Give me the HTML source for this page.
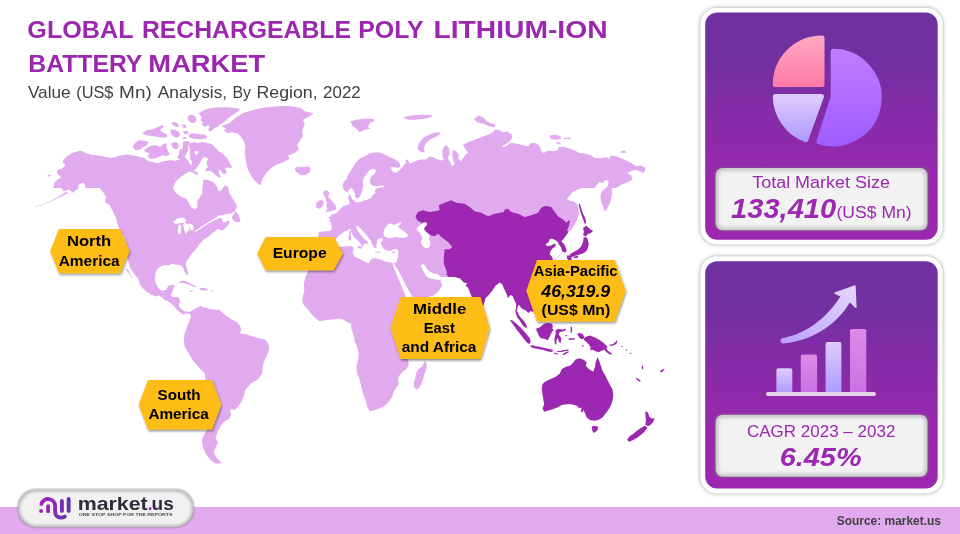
<!DOCTYPE html>
<html lang="en"><head><meta charset="utf-8"><title>Global Rechargeable Poly Lithium-Ion Battery Market</title>
<style>
html,body{margin:0;padding:0;background:#fff}
body{width:960px;height:534px;overflow:hidden;position:relative;font-family:"Liberation Sans",sans-serif}
svg{position:absolute;left:0;top:0;display:block}
text{font-family:"Liberation Sans",sans-serif;white-space:pre}
</style></head><body>
<svg width="960" height="534" viewBox="0 0 960 534">
<defs>
<linearGradient id="cg" x1="0" y1="0" x2="0" y2="1"><stop offset="0" stop-color="#7030A0"/><stop offset=".18" stop-color="#7030A0"/><stop offset=".72" stop-color="#9928AE"/><stop offset="1" stop-color="#9C27B0"/></linearGradient>
<filter id="hs" x="-10%" y="-20%" width="125%" height="150%"><feDropShadow dx="0.8" dy="1.6" stdDeviation="0.9" flood-color="#000" flood-opacity=".45"/></filter>
<filter id="cs" x="-10%" y="-10%" width="120%" height="120%"><feDropShadow dx="0" dy="0" stdDeviation="2" flood-color="#55553f" flood-opacity=".6"/></filter>
<filter id="ib" x="-5%" y="-10%" width="110%" height="120%"><feGaussianBlur stdDeviation="2"/></filter>
</defs>
<rect x="0" y="507" width="960" height="27" fill="#E1AAEE"/>
<g id="map"><path fill="#E1AAEE" d="M53,188 54.7,182.2 57.7,179.2 61.3,177.7 58.8,175 56.7,172.2 57.7,169.7 61.3,168.8 63.8,167.2 65.5,164.7 62.7,162.2 63.3,159.7 67.2,156 72.2,153 78,151.3 81.7,150.7 85.5,153 91.3,154.7 98,155.5 104.7,156.7 111.3,158 115.5,156.7 121.3,155.5 128,154.3 132.2,155.5 138,156.3 144.7,158.3 147.2,160.5 152.2,162.2 157.2,163.3 161.3,162.2 166.3,161 173,161.3 178,160 183,161.3 185.5,164.7 183.8,168 186.3,171.3 189.7,172.2 189.7,188ZM47.7,174.7 50.5,175 51,176.3 48,176.3ZM221.3,126 229.7,123 236.3,117.2 243,113 251.3,110.5 261.3,108 271.3,106.7 281.3,106 291.3,106.3 301.3,108.3 304.7,111.3 313.8,113.3 308,117.2 303,119.7 304.7,124.7 302.2,130.5 303,135.5 300.5,139.7 297.2,144.7 298.8,149.7 294.7,153 288,155.5 289.7,158.8 283,162.2 276.3,164.7 271.3,168 266.3,173 263,178 261.3,183 259.7,185.5 257.2,183 253.8,179.7 250.5,174.7 248,169.7 246.3,163.8 245.5,158 244.7,151.3 245.5,146.3 243.8,141.3 241.3,137.2 238,133.8 233,132.2 227.2,133 223.8,130.5 226.3,128.8ZM294.7,168.8 297.2,166.7 303,167.2 308,166.3 311,168.8 309.7,172.2 305.5,174.7 301.3,175.5 298,173.3 295.5,171.3ZM198.5,113.2 202.8,110.7 207.9,108.8 215.4,107.5 224.2,107.3 233,107.8 239.2,108.8 240,109.4 236.7,112.6 231.7,115.7 227.9,118.8 224.2,122 220.4,124.5 216.7,127 212.9,129.5 210.4,131.4 207.9,130.1 209.7,127 207.9,125.1 205.4,127 202.2,125.1 202.8,122 200.3,120.1 202.2,117.6 200.3,115.7ZM188.4,134.5 192.8,133.3 197.8,133.9 202.8,134.5 207.2,135.8 206.6,138.3 201.6,139.2 196.6,138.9 191.5,138.3 188.8,137ZM187.8,116.3 191.5,114.4 195.3,116.3 196.6,120.1 194.1,123.2 190.3,122.6 187.8,120.1ZM171.5,122.6 175.2,122 178.4,124.5 179,127 175.9,127 172.7,125.1ZM182.1,124.5 185.3,124.5 186.5,127.6 183.4,128.2ZM142,133.3 147,130.1 152.6,129.5 157.7,127 162.7,125.1 163.9,127 160.2,129.5 162.1,132 166.4,133.9 167.7,136.4 163.9,137.7 158.9,137 153.9,136.4 149.5,135.8 145.1,135.1ZM170.2,129.5 175.2,130.1 179,132 180.3,135.8 177.1,137.7 173.3,136.4 170.8,133.3ZM182.8,131.4 187.8,130.8 188.4,133.3 184.6,134.5ZM182.1,137.7 185.9,137 186.5,138.9 182.8,139.2ZM132.6,147.1 135.1,142.7 138.8,140.2 143.8,140.4 148.9,142.1 147,145.2 143.2,147.1 140.1,149.6 135.7,150.2ZM143.8,150.2 147,147.7 151.4,145.8 156.4,145.2 160.2,147.1 163.3,143.9 167.1,143.3 166.4,147.1 168.3,151.5 169.6,154.6 166.4,155.9 162.7,155.2 158.9,157.1 154.5,158.4 150.1,159 147.6,156.5 149.5,153.3 145.7,152.1ZM171.5,143.3 175.2,142.1 178.4,143.3 179,147.1 176.5,149.6 173.3,148.3 171.5,145.8ZM182.8,142.1 186.5,140.8 189.7,142.1 188.4,145.8 185.3,148.3 182.8,146.4ZM179.6,149.6 182.8,149 184.6,152.7 182.1,155.9 179,154ZM190.3,143.9 194.1,142.1 197.2,143.3 195.3,147.1 194.1,151.5 195.9,155.2 198.5,152.7 199.7,148.3 201.6,143.9 206.6,142.7 211.6,143.9 215.4,147.7 219.2,151.5 222.9,154 226.7,157.7 229.2,161.5 231.7,167.8 207.9,167.8 206.6,162.8 207.9,159 204.7,156.5 201.6,159 199.1,162.8 195.3,167.8 190.3,167.8 192.2,162.8 190.3,159 189.7,154 190.3,149ZM188.9,143.8 192.7,142.5 197.7,143.1 202.7,141.9 207.7,143.1 212.8,146.3 216.5,150 220.3,153.2 224.1,156.3 226.6,160.1 230.3,163.8 232.2,167 229.1,167.6 226.6,165.7 225.3,168.9 227.2,172.6 224.1,174.5 221.5,172 219.7,168.9 218.4,172.6 220.9,176.4 219,177.7 215.3,175.1 212.1,172 209,170.8 205.2,171.4 206.5,168.2 210.3,165.7 212.8,162.6 211.5,158.8 208.4,156.3 205.2,157.6 202.7,155.1 200.2,151.9 196.4,150.7 193.3,151.9 190.2,149.4 188.9,146.3ZM191.4,172 195.2,170.8 198.3,173.3 196.4,176.4 193.3,177 190.8,175.1ZM193.3,165.1 195.8,162 198.3,158.8 200.2,156.9 202.1,158.8 200.2,162.6 197.7,166.4 195.2,169.5 192.1,171.4 190.2,168.9ZM177,157.6 179.5,153.8 181.4,150 183.3,146.3 184.5,144.4 187.7,145.6 188.3,150 186.4,153.8 184.5,157.6 186.4,160.7 181.4,161.3ZM127.2,155.8 134.7,156.7 141.3,158.3 148,160.8 154.7,162.5 158,164.2 161.3,161.7 166.3,160.8 171.3,160 176.3,161.7 179.7,160 183,156.7 186.3,158.3 189.7,163.3 192.2,166.7 193.8,173.3 198,175.8 201.3,177.5 203.8,179.2 208,180 213,181.7 216.3,185.8 218,190 221.3,188.3 223.8,184.2 226.3,188.3 229.7,195 233,200 235.5,204.2 236.3,208.3 234.7,211.7 231.3,213.3 228,215 223,215.8 218,217.5 214.7,220 209.7,222.5 204.7,225 201.3,227.5 198,230 127.2,230ZM231.3,218.3 234.7,213.3 237.2,214.2 238.8,219.2 240.5,221.7 237.2,222.5 233.8,220.8ZM218.8,230 220.5,225.8 223.8,223.3 228,221.3 229.7,223.3 226.3,226.7 223.8,230ZM188.8,186.2 188.8,277 136.3,277 129.7,267 128,260.3 127.2,253.7 124.7,237 119.7,230.3 118,225.3 116.3,218.7 113,212 109.7,205.3 104.7,202 106.3,197 103,192 98,186.2ZM79.7,186.2 78,188.7 73,192.8 68.8,189.5 63.8,191.2 59.7,186.2ZM34.7,206.8 44.7,203.7 58,197 66.3,191.7 68,193 58.8,197.7 44.7,204.2 34.7,207.2ZM139.4,234.4 208.4,234.4 202.7,238.8 199.6,243.8 197.1,247.5 194,251.3 190.2,255.7 187.7,258.8 187.1,259.5 185.9,263.2 186.3,267 187.6,270.8 188.1,273.9 186.8,275.5 184.8,272.3 183.5,268.5 182,265.7 178.9,265.1 175.1,264.5 171.4,263.9 168.9,265.4 164.5,265.1 160.7,266.4 157.6,268.9 155.7,272.6 155.1,277.7 155.7,282.7 157.6,286.4 160.1,289.6 163.2,290.8 166.3,289.6 168.2,285.8 171.4,284.6 174.5,284.9 173.6,288.3 172,292.1 170.9,295.5 172.6,297.1 177.6,297.1 179.5,299 180.2,302.8 170.1,302.8 167,299 163.2,295.2 160.7,294 156.3,295.9 151.3,294 146.3,291.5 142.5,287.7 139.4,283.3ZM178.9,282.1 182,280.4 185.8,281.2 190.2,283.3 194,285.2 197.1,286.4 195.2,287.1 191.4,285.8 187.1,283.9 182.7,282.7 179.5,282.9ZM199.6,288.3 203.4,287.7 207.8,289 207.8,290.2 203.4,290.5 200,290ZM189.6,290.8 192.7,290.6 192.7,291.7 189.6,291.8ZM210.6,290.2 213,290.2 213,291.2 210.6,291.2ZM187.2,186.2 228,186.2 229.7,193.7 233.8,200.3 237.2,206.2 234.7,210.3 229.7,213.7 223.8,214.5 221.3,217.8 223.8,222.8 228.8,220.3 229.7,222.8 225.5,227 220.5,230 218,228.7 213,232.8 208,237 203.8,239.5 199.7,243.8 197.2,247.5 194,251.3 190.2,255.7 187.2,259ZM232.2,216.2 235.5,211.2 238,213.7 240.5,220.3 237.2,222 233.8,219.5ZM316.3,202.8 319.7,200.3 323.8,201.2 323.3,205.3 319.7,208.7 316.3,207.8ZM323,192 326.3,190.3 329.7,192.8 328,197 332.2,201.2 335.5,205.3 336.3,209.5 331.3,211.2 325.5,212 328,207.8 326.3,203.7 328,200.3 324.7,197ZM348.8,242 318,242 318,237 318.8,232 324.7,231.2 333,230.7 334.7,225.3 333,220.3 328,217.8 333,214.5 338,212 343,208.7 348.8,203.7ZM308,277 310.5,273.7 314.7,271.2 321.3,270.3 348.8,265.3 348.8,277ZM344.7,186.2 348.8,186.2 348.8,191.2 345.5,190.3ZM153,269.2 153.8,276.7 155.5,282.5 158,287.5 161.3,290.8 165.5,290 168,285.8 173.8,285 172.2,289.2 170.5,294.2 171.3,296.7 178,297.5 179.7,301.7 178.8,305.8 181.3,309.2 185.5,311.7 189.7,312 193,310 191.3,315.3 189.7,314.2 186.3,313.3 183.8,315 179.7,311.7 175.5,308.3 172.2,304.2 167.2,300.8 163,297.5 159.7,295 155.5,295.8 148.8,292.5 143.8,288.3 140.5,284.2 137.2,276.7 133,269.2ZM128,269.2 130.5,275 133,279.2 131.3,277.5 128.8,273.3 125.5,269.2ZM191.3,315 194.7,310 198.8,307.5 201.3,305.8 203.8,308.3 208,309.2 214.7,309.7 219.7,310 222.2,312.5 226.3,315.8 231.3,319.2 236.3,321.7 239.7,325 241.3,330 239.7,333.3 246.3,334.2 253,336.7 259.7,338.3 265.5,340.8 268.3,343.8 269,348.3 268.3,352.7 265.8,356.5 263.3,360.2 193.8,360 191.3,355 188,350 185.5,345 183.8,340 184.7,333.3 187.2,326.7 189.7,320ZM139.5,279.5 154.9,279.5 155.4,283 156.9,286.5 158.9,289.4 161.3,291.4 164.8,290.9 167.3,288.9 168.8,285 174.2,284.5 173.3,287.4 171.8,290.9 170.8,293.9 171.3,296.4 174.7,297.4 178.2,297.4 179.7,298.9 179.2,301.8 178.7,304.8 179.2,307.3 180.2,309.8 182.2,311.3 184.2,312.3 186.2,311.6 188.6,311.8 190.1,313.7 191.6,313.7 191.1,315.7 190.1,314.2 188.6,312.3 186.2,312.3 185.2,313.7 183.7,314.7 181.2,313.3 178.7,311.3 176.2,309.3 174.7,306.3 172.8,303.3 169.8,301.8 166.3,300.8 163.3,298.9 160.8,296.4 158.9,295.4 156.4,296.4 151.9,294.9 146.9,291.9 143,288.4 139.5,284ZM191.6,314.2 192.6,310.8 195.1,308.8 198.1,307.3 200.5,305.8 202,306.3 202.5,308.8 204.5,307.3 207.5,308.3 211.5,309.3 215.4,309.8 220.4,309.8 220.4,333.6 185.2,333.6 185.7,331.6 187.1,327.6 188.6,323.7 190.1,319.7ZM199.4,306.9 205,307.5 210,309.4 216.3,310.7 221.3,313.2 225.1,316.9 230.1,319.4 235.1,322 238.9,325.1 240.2,329.5 238.3,333.2 241.4,333.9 245.2,333.9 250.2,336.4 255.2,338.3 260.2,339.5 265.2,342 268.4,343.9 269,348.3 268.4,352.7 265.9,356.5 263.4,360.2 262.1,364 262.1,367.8 199.4,367.8ZM264.7,339.2 268,343.3 268.8,348.3 267.2,355 264.7,360 263,365 262.2,373.3 258,379.2 251.3,383.3 248,386.7 245.5,390 243.8,395.8 241.3,401.7 238,406.7 234.7,410 231.3,409.2 227.2,410.8 229.7,414.2 230.5,417.5 227.2,420 223.8,421.7 221.3,425 218.8,430 217.2,430 216.3,418.3 213.8,406.7 209.7,395 206.3,383.3 204.7,373.3 199.7,368.3 193.8,361.7 189.7,355 184.7,346.7 183.8,339.2ZM242.2,399.2 238.8,405 233.8,408.3 229.7,410 231.3,415 228,418.3 223,420.8 221.3,425 218,429.2 217.2,433.3 215.5,438.3 218,442.5 215.5,447.5 213.8,452.5 216.3,457.5 220.5,461.7 221.3,463.7 214.7,463.3 209.7,459.2 205.5,453.3 203,446.7 201.8,440 204.7,433.3 207.2,430 214.7,410 217.2,399.2ZM347.2,176.3 351.3,169.7 355.5,163 359.7,158.8 366.3,155.5 373,153 378.8,152.2 383,153.8 388,156.3 393.8,158.8 398,161.3 400.5,164.7 398.8,168 394.7,167.2 390.5,167.2 392.2,171.3 395.5,173 398,171.3 401.3,168.8 403.8,164.7 406.3,162.2 405.5,159.7 408.8,161.3 409.7,163.8 414.7,161.3 419.7,159.7 426.3,159.3 429.7,156.3 433,157.2 436.3,158.8 441.3,160.5 443.8,159.7 442.2,154.7 443,148 446.3,144.7 448.8,148 449.7,153 448,158 450.5,163 452.2,166.3 454.7,163.8 453,159.7 452.2,154.7 453,149.7 456.3,151.3 458.8,154.7 458,158.8 461.3,161.3 463,158 465.5,154.7 468,153 464.7,148 463,144.7 468,142.2 474.7,139.7 481.3,137.2 488,134.7 493,132.2 494.7,129.7 498.8,129.7 503,132.2 508.8,131.3 508.8,188 347.2,188ZM350.5,121.3 356.3,119.7 363,118.8 373,118.8 374.7,120.5 369.7,123 368,127.2 370.5,128.8 364.7,129.7 359.7,132.2 355.5,128 352.2,125.5ZM403,117.2 411.3,115.5 421.3,114.7 431.3,114.7 432.2,116.7 424.7,118.8 414.7,119.7 408,119.7ZM417.2,148.8 418.8,143.8 422.2,138.8 427.2,135.5 433,133 439.7,132.2 440.5,133.8 434.7,137.2 429.7,139.7 425.5,143.8 423.8,148 424.7,152.2 421.3,152.2ZM473.8,118.8 478.8,115.5 483,117.2 486.3,120.5 489.7,123 495.5,124.7 494.7,127.2 488.8,126.3 483,123.8 477.2,122.2ZM507.2,133 511.3,133.8 512.2,138 509.7,141.3 508,143 514.7,143.3 521.3,144.7 528,146.3 531.3,143 536.3,143.3 539.7,146.3 541.3,151.3 543.8,153 548,150.5 553,151.3 557.2,150.5 558.8,147.2 563,146.7 568,148 574.7,150.5 579.7,153 586.3,153.8 591.3,155.5 594.7,158 600.5,158.3 606.3,157.2 609.7,158.8 610.5,155.5 616.3,156.3 624.7,159.7 631.3,163 636.3,166.3 641.3,165.5 645.5,168 643.8,173 639.7,171.3 634.7,169.7 631.3,171.3 627.2,173 631.3,175.5 632.2,179.7 626.3,183 621.3,184.7 616.3,188 608,188 608.8,181.3 605.5,179.7 603,183 598.8,182.2 594.7,188 507.2,188ZM549.7,135.5 554.7,134.7 560.5,136 561,138.8 555.5,139.7 550.5,138.8ZM563.8,137.7 570.5,137.7 570.5,139.3 563.8,139ZM556.3,141.7 560.5,143 560.5,144.7 556.3,143.3ZM621,151 625.5,150.5 626,152.7 621.3,153ZM343.3,188.9 342.6,185.1 343.9,181.4 347.7,178.2 351.4,174.5 353.9,170.1 357.1,165.1 360.2,160.7 364,156.9 369,153.8 374,152.5 379,153.1 384.1,155.6 387.8,157.5 392.8,159.4 397.9,161.9 400.4,164.4 399.7,166.9 396.6,166.3 392.8,165.7 388.5,165.7 390.3,168.8 392.2,172 395.4,173.8 397.9,172.6 399.7,170.1 402.3,167.6 405.4,165.1 406.7,161.9 405.4,160 407.3,159.4 409.2,161.9 408.5,165.1 411.7,163.2 415.4,161.3 420.5,160 425.5,159.4 430.5,158.8 430.5,217.8 332,217.8 335.1,214.6 338.2,211.5 341.4,207.7 343.9,205.9 347.7,204.7 350.2,203.3 348.9,200.2 348.3,196.4 350.2,193.9 348.4,193.3 345.1,190.8ZM324.4,192.1 327.6,190.8 328.8,193.3 327.6,196.4 330.1,199.6 332.6,203.3 335.1,206.5 335.7,209 332.6,210.3 328.8,211.5 325.7,212.1 327.6,209 326.3,205.9 327.6,202.7 325.7,200.2 326.3,197.1 324.4,195.2ZM316.9,204 319.4,200.8 322.6,200.2 323.6,203.3 321.9,206.5 318.8,208.4 316.3,207.7ZM331.3,214.4 440.5,214.4 440.5,282.8 335.1,282.8 335.1,240.1 327.5,227.6ZM381.3,186.2 508.8,186.2 508.8,277 381.3,277ZM507.2,186.2 588,186.2 583,187.8 578,189.5 573,192 569.7,195.3 566.7,199.5 570,200.7 573.8,201.5 577.2,203.7 578.3,207.8 579,213.7 577.2,219.5 574.7,224.5 572.2,228.7 568.3,232.3 558,237 507.2,237ZM601.3,192 604.7,188.7 608,186.2 611.3,186.2 612.2,192 611.3,198.7 609.7,203.7 607.2,208.7 604.7,212 603.8,207 602.7,202 601.3,197ZM607.7,175.7 612.4,170.5 622.9,170.5 627.1,172.1 628.1,174.2 631.3,175.7 632.3,178.9 628.1,180.4 623.9,182.5 620.3,184.6 616.6,185.2 613.5,186.2 611.4,189.4 610.3,192.5 611.4,196.2 610.3,200.4 608.7,204 607.2,207.2 605.6,209.8 605.1,211.4 603.5,207.7 601.9,204 600.9,200.4 600.4,196.2 601.4,193 604,190.9 606.1,188.3 607.7,185.7 608.7,182.5 609.3,179.4 607.7,179.4ZM427.2,249.2 444.7,249.2 443.8,256.7 445.5,263.3 448,270 446.3,275 444.7,275 438,272.5 431.3,268.3 427.2,266.7ZM427.2,273.3 434.7,275 440.5,280.8 442.2,285.8 438,291.7 433,295.8 427.2,297ZM428.8,261.2 428.8,352 359.7,352 357.2,345.3 354.7,339.5 353,333.7 351.3,328.7 351.3,324 347.2,322 343,319.5 338,318.7 331.3,319.5 324.7,320.3 319.7,321.2 314.7,317.8 310.5,312.8 307.2,308.7 303.8,305.3 302.2,301.2 303,296.2 304.3,290.3 303.8,283.7 305.5,277 308,271.2 308,261.2ZM408,339.2 408,359.2 408.8,364.2 407.2,368.3 403,371.7 399.7,375 398,379.2 398.8,384.2 396,388 393.8,391.7 392.2,396.7 388.8,402 384.3,406 379.7,408.3 374.7,410.3 369.7,411.2 367.2,406.7 365.5,400 363,393.3 361.3,386.7 359.7,380 357.2,373.3 356.3,366.7 358,360 358.8,353.3 357.2,346.7 353.8,339.2ZM424.7,360.8 426.3,363.3 426.7,367.5 424.7,373.3 423,379.2 421.3,384.2 418.8,388.3 416.3,389.7 414.3,387.5 413.8,382.5 415.5,377.5 416.3,372.5 418,369.2 421.3,367.5 423.3,364.2Z"/>
<path fill="#FFFFFF" d="M78,188 78.8,184.7 82.2,182.7 84.7,183.8 85.5,188ZM176.3,188 177.2,183 183,181.8 188.8,182.2 188.8,188ZM173,188.3 174.7,183.3 178,179.2 182.2,175.8 186.3,173.3 189.7,171.3 193.8,173.3 198,175.8 201.3,177.5 203.8,179.2 203,183.3 202.3,188.3 202.3,193.3 199.7,197.5 197.3,200.8 197.3,206.7 194.7,210 193,206.7 191.3,201.7 187.2,199.2 181.3,196.7 176.3,193.3ZM173,221.7 178,218.3 183,217.5 186.3,220 184.7,222.5 179.7,223.3 175.5,224.2ZM183,224.2 186.3,223.3 187.7,230 184.3,230ZM188.8,223.3 193,225 193.8,230 189.7,230ZM223.6,181.4 224.4,185.7 222.9,188.1 220.6,191 217.9,190.5 217.1,186.9 215.1,181.4ZM173,221.2 178,218.7 183,217.8 185.5,220.3 182.2,222.8 178,222.8 174.7,223.7ZM178.8,224.5 181.3,225.3 181,232 178.8,235.3 177.7,230.3ZM183.8,222.8 188.8,224.5 188.8,230.3 185.5,233.7 183.8,228.7ZM188.8,186.2 188.8,199.5 181.3,195.3 176.3,192 173,186.2ZM155.1,277.7 155.7,272.6 157.6,268.9 160.7,266.4 164.5,265.1 168.9,265.4 171.4,263.9 175.1,264.5 178.9,265.1 182,265.7 183.5,268.5 184.8,272.3 186.8,275.5 188.1,273.9 189.2,276.4 189.2,279.9 182,280.2 178.9,281.8 176.4,284.9 174.5,284.9 171.4,284.6 168.2,285.8 166.3,289.6 163.2,290.8 160.1,289.6 157.6,286.4 155.7,282.7ZM188.1,259.5 189.7,259.5 189.7,276.4 188.1,273.9 187.6,270.8 186.3,267 185.9,263.2 187.1,259.5ZM187.2,186.2 202.2,186.2 200.5,193.7 197.2,200.3 195.5,207 192.2,208.7 187.2,200.3ZM194.7,231.3 198,229 208,222.3 216.3,217.2 223.8,214.5 229.7,213.7 230.5,215.3 223.8,216.5 217.2,219 208.8,223.3 198.8,230 195,232ZM217.2,215.7 229.7,213.7 231.7,216.7 232.7,220.3 230.5,224.5 223.8,222.8 221.3,217.8ZM363.8,188 363,181.3 365.5,176.3 368.8,172.2 372.2,169.7 375.5,170.5 374.7,173.8 371.3,176.3 369.7,180.5 368.8,184.7 370.5,188ZM502.2,146.3 508.8,142.2 508.8,144.7 503.8,147.2ZM369,170.7 372.1,168.8 375.5,169.5 375.9,171.6 373.4,174.1 371,177.1 369.7,180.8 370.4,183.9 372.8,185.8 376.5,186.4 380.3,185.4 384.1,185.8 383.6,187.2 379.8,187.4 376.5,188.4 374.8,190.2 375.3,193.3 372.8,194.7 371,197.7 367.7,199.6 364.6,200.2 361.5,201.5 358.3,202.2 355.8,202.7 353.9,200.2 355.4,197.4 358.3,198.5 360.2,195.9 361.5,192.7 362.7,188.9 363.3,185.1 362.7,181.4 364,177.6 366.5,173.8ZM348.3,190.4 351.4,187.7 353.3,190.2 354.6,193.3 355.4,197.4 353.9,200.2 352.1,199.6 350.8,196.4 350.2,193.9 348.4,196.2 347.7,193.3ZM335.1,240.1 338.8,235.7 343.2,232.6 347,230.3 350.5,229.1 351.4,232.6 353.3,235.7 355.8,238.8 358.9,241.6 360.8,244.1 362.1,247 363.6,245.1 364.8,243.1 366.7,244.1 368.6,243.2 366.7,240.7 363.6,238.2 360.4,234.5 357.3,230.1 355.8,226.5 357.7,225.7 361.4,229.4 365.2,233.8 368.3,237.6 370.5,240.4 371.7,243.5 373.6,246.6 375.5,248.5 376.7,247.3 376.1,244.7 377.5,243.2 376.5,241 378.7,239.1 382.5,238.1 382.3,240.7 380.5,242.2 381.5,245.1 382.8,247.9 385.5,250.1 390.3,250.9 394.1,249 398.1,249.6 398.1,256.4 396.8,261.2 395.3,263.1 390.3,262.4 385.3,261.4 380.3,259.6 375.2,258.2 371.7,258.4 370.2,260.8 368.5,263.7 363.9,260.9 358.9,258.4 354.5,256.4 352.6,252.7 353.6,248.3 352,246 345.1,246.4 338.8,247.1 335.1,247.6ZM383.4,232.6 384.6,228.8 387.2,225 389.7,223.2 392.2,224.4 395.3,224.8 398.5,222.5 401.6,221.9 400.3,224.4 397.8,226.3 400.3,228.8 404.1,231.3 407.2,233.8 407.9,236.3 405.4,237.6 400.3,237.8 395.3,237 390.3,238.2 386.5,237.6 384,235.7ZM416.7,228.2 419.2,225.7 422.9,223.2 426.7,222.5 427.3,225 424.8,227.6 426.7,231.3 429.8,235.1 429.2,238.8 430.5,243.9 429.2,247.6 425.4,247.9 422.3,245.8 421,242 422.3,237.6 420.4,233.8 417.9,230.7ZM421,265.2 423.6,264 426.1,268.3 429.2,273.4 433,275.3 437.4,274 440.5,276.5 440.5,280.3 433,279 427.9,277.8 424.8,274 422.3,269ZM319.9,219.4 326,219.9 329.6,221.3 331.2,223.2 331.8,226.7 331.4,230.5 318.4,230.7ZM421,265.5 424.1,264.4 426.2,267.6 428.3,270.7 431.4,272.3 434.6,273.9 436.2,273.3 437.2,275.4 436.7,277.5 433.5,276.5 430.4,277.5 427.8,277 425.7,273.9 423.6,270.2 421.5,267.6ZM392.4,262.8 393.3,262.8 395.7,267 398.5,270.7 400.8,275.4 403.6,281 406.4,286.6 409.2,291.3 412,296 413,297.9 406.4,297.9 404.1,292.2 401.7,286.6 398.9,280.1 396.1,273.5 393.8,267.9Z"/>
<path fill="#E1AAEE" d="M218.8,227.8 223.8,222.8 228.8,220.3 229.7,222.8 225.5,227 220.5,230ZM348.3,196.4 350.2,194.2 350.9,196.7 352.2,199.7 350.4,203.3 348.9,200.2ZM357.4,245.8 362.1,246.6 361.4,249.1 358,248ZM348.2,235.7 350.8,235.1 351.1,240.1 348.9,240.7ZM349.1,231.3 350.8,231.1 350.8,234.5 349.2,234.5ZM375.2,251.4 380.3,251.8 380.3,252.7 375.2,252.4ZM391.5,252 395.3,251.2 395.1,252.7 391.8,253Z"/>
<path fill="#9C27B0" d="M415.5,216.2 418,212 423,210.3 429.7,212 434.7,211.2 439.7,210.3 438.8,205.3 444.7,202.8 451.3,200.3 456.3,202.8 464.7,203.7 469.7,207 474.7,211.2 481.3,212.8 488,216.2 494.7,213.7 503.8,212 504.7,209.5 508.8,208.7 508.8,277 448,277 446.3,270.3 443.8,263.7 443.8,257 447.2,251.2 452.2,247 448,242 441.3,237 438,233.7 434.7,236.2 430.5,235.3 426.3,232 423.8,228.7 427.2,224.5 426.3,222 421.3,222.8 417.2,220.3ZM507.2,208.7 511.3,212 518,213.7 524.7,217 531.3,215.3 538,212.8 541.3,207.8 545.5,205.7 551.3,207 554.7,212 558,216.2 563,219.5 566.3,222.8 568.8,220.3 570,221.2 568.8,226.2 567.2,230.3 568.3,232.3 566.3,235.3 563.8,238.7 561.3,241.2 563.8,243.7 565.5,247 566.7,251.2 564.7,252.8 562.2,251.3 561.3,253.7 558,257 553,260.3 553,277 507.2,277ZM551.7,249.2 550.5,259.2 538,260 528,291.7 528,305 517.2,305 516.3,301.7 514.7,297.5 512.2,294.2 509.7,295.8 508,298.3 506.3,293.3 503.8,288.3 502.2,284.2 499.7,282.5 495.5,285.8 492.2,290.8 488.8,295 485.5,298.3 481.3,313.3 478,306.7 473,300 471.3,295.8 469.7,291.7 468,287.5 465.5,285.8 467.2,283.3 463.8,282.5 459.7,278.3 453,276.7 446.3,275 448,270 445.5,263.3 443.8,256.7 444.7,249.2Z"/>
<path fill="#FFFFFF" d="M545.5,244.5 548.8,242 549.7,239 552.2,238.7 555.5,240.3 558,242.3 559,244.7 561,247.3 562.2,251.3 561.3,253.7 558,257 553,260.3 552.2,257 549.7,254.5 550.5,251.2 552.2,248.7 554.7,247 556.3,244.7 554,243.7 551.7,245.3 547.3,246.2Z"/>
<path fill="#9C27B0" d="M583,228 586.3,225.7 590.5,229.5 593.3,230.7 590.5,233.3 587.7,234 586,236.7 583,235 584,231.7ZM583.8,237 587.2,237.8 588.8,243.7 587.7,248.7 585.5,252 582.2,253.7 578,255 573.8,256.2 571.3,257.3 569.3,255.7 570.5,253.7 573.8,252 578,249.5 581.3,246.2 583,242ZM567.2,255.3 571.3,256.2 571.7,260 568.8,260.3 566.7,258.3ZM573.3,256.7 578,255.7 578,257.7 574,258.3ZM578.8,204.5 580,203.7 581.3,208.7 583,213.7 585,217.8 586.3,222 585,224.5 583.8,221.2 582.2,217 580.5,212 579.3,207.8ZM621.7,345.8 623.3,346.7 622.8,347.3 621.3,346.5ZM625.8,349.2 627.5,350.3 627,351 625.3,349.8ZM630,352.5 631.7,353.7 631.2,354.3 629.5,353.2ZM510.1,320.1 512.7,320.5 515,322.4 518,325 521,328 524,331.3 527,334.7 529.6,338.1 530.7,341.5 529.6,344.1 527.3,343 524.7,340 522.1,336.6 519.5,333.2 516.9,329.9 514.2,326.1 512,323.1 510.5,321.2ZM516.1,309.6 517.6,312.2 519.1,315.2 520.6,317.5 522.5,319.4 524.3,321.2 525.8,323.9 527,326.9 526.2,328 524.3,326.9 522.5,325 521,322.7 519.9,320.1 519.1,317.5 517.6,314.9 516.1,312.6 515.4,309.6ZM536.3,328.4 538.2,328 540.4,326.9 542.3,325 544.9,323.5 547.9,323.1 551.7,323.5 552.8,325.4 552.4,328.7 553.6,329.9 552.1,331.7 550.9,334 549.8,336.6 548.7,338.8 547.9,340.3 546.1,339.6 544.2,338.8 541.9,338.5 539.7,337.3 538.6,335.1 537.5,332.5 536.3,330.2ZM530,345.6 533,345.2 536,346.3 539.7,346.7 543.4,347.8 547.2,348.6 550.9,349.3 553.9,350.1 552.4,350.8 547.9,350.4 541.9,349.7 538.2,349 534.5,348.2 531.5,347.5ZM555.4,329.9 558.4,328.9 562.8,329.4 565.8,328.4 566,329.9 562.8,331.4 559.9,331.9 558.4,334.4 560.3,336.4 561.3,339.3 560.8,342.8 559.4,342.8 558.4,339.8 557.4,337.9 556.4,340.8 556.4,344.3 554.9,344.3 554.4,340.3 554.9,336.4 555.9,332.9ZM570.3,327.4 571.8,326.4 572.3,329.9 571.3,332.9 570.3,332.4 570.8,329.9ZM568.3,338.8 570.8,338.3 574.7,338.3 575.7,339.3 571.8,339.8 568.8,340ZM565.3,335.4 567.3,335.1 567.3,336.1 565.3,336.3ZM577.2,333.4 579.7,332.9 582.7,333.9 584.2,336.4 583.7,338.8 581.7,339.3 579.7,337.9 578.2,335.9ZM583.7,338.3 586.7,336.4 590.1,335.4 593.6,336.9 597.6,338.8 601.5,341.3 604.5,343.8 607.5,346.8 606.5,348.8 608.5,351.3 611.5,353.2 612,354.7 609.5,354.2 606.5,352.2 604.5,349.8 601.5,350.8 598.6,352.2 595.6,351.3 592.6,349.8 590.1,350.3 590.6,347.3 588.6,344.3 586.2,341.8 584.2,340.3ZM609.5,344.8 612.5,344.3 615.4,342.3 616.4,340.3 617.4,341.3 616.4,343.8 613.4,345.6 610,346ZM539.5,346.8 543,347.8 546,349.8 549.9,350.6 552.9,351.3 551.9,351.9 547.9,351.5 544,350.3 539.5,348.3ZM553.9,352.7 557.4,353.2 557.9,354.5 554.4,353.9ZM556.4,350.8 559.9,351 562.8,350.3 565.8,349.8 568.8,349.6 568.3,350.8 564.8,351.3 561.3,351.9 557.9,351.9ZM562.3,354.2 565.8,352.2 568.3,351.3 568.8,352.2 566.3,353.7 563.3,355.2ZM582.7,344.8 583.7,345.3 582.9,347.3 582.2,346.8ZM527.5,285.4 534.2,311.8 530.3,311.3 528.6,313 525.2,310.2 521.8,308.5 518.5,304.5 517.3,308.5 516.8,312.4 518.5,315.8 520.2,318.6 522.4,319.7 524.7,323.1 526.3,327 525.4,327.8 523.5,325.9 521.3,323.1 519.6,320.3 517.3,317.5 516,314.1 515.3,310.7 516,308.5 516.2,304 514.5,300.6 512.9,296.7 510.6,294.4 508.4,295 506.7,290.5 503.9,285.4ZM542.5,384.2 545,381.7 550,379.2 555.8,376.7 560,373.3 561.7,369.2 565.8,366.7 570,365.8 573.3,362.5 575.8,359.2 580,358.3 584.2,360 586.7,362.5 585.8,365.8 589.2,369.2 593.3,371.7 595,366.7 595.8,361.7 597.5,357 599.2,360.8 600.8,365.8 602.5,370.8 605,375 607.5,380 610,385 612.5,389.2 613.3,395 612.5,400.8 610.8,405.8 608.3,410 605.8,413.3 602.5,417.5 598.3,420 594.2,420.8 590,420 586.7,417.5 585,413.3 583.3,410 582.5,412.5 580.8,411.7 581.7,407.5 579.2,408.3 576.7,405.8 571.7,404.2 566.7,404.2 561.7,405 557.5,407.5 552.5,409.2 547.5,410.8 544.2,411.7 542.5,408.3 544.2,404.2 543.3,399.2 542.5,394.2 541.7,389.2ZM591.7,426.7 594.2,425.8 598.3,426.7 597.5,430 595,432.5 593,432.5 592,429.2ZM645.3,411.3 648,412.5 649.2,416.3 651.7,418.7 654.7,418 653.3,421.7 650.8,424.7 648,426.3 645.3,424.7 646,420.8 645.5,416.7ZM644.7,425.8 647.5,427.5 645,431.3 641.7,434.2 637.5,437.5 633.3,440 629.2,441.7 627,439.7 629.2,436.7 633.3,433.7 637.5,430.3 641.3,427.7ZM635.8,377.5 637.5,378.3 640.8,380.8 640,381.7 636.7,379.7ZM641.7,365.8 643,365.8 643.3,369.2 642,369.2ZM660,370.8 663.3,369.2 665,369.2 662.5,371.7 660.3,372.2Z"/></g>
<g id="labels"><polygon points="50.2,251.1 59,229 120.2,229 129.5,251.1 120.2,273.2 59,273.2" fill="#FEBC12" filter="url(#hs)"/><polygon points="257.2,253.60000000000002 265.6,236.9 333.6,236.9 342.9,253.60000000000002 333.6,270.3 265.6,270.3" fill="#FEBC12" filter="url(#hs)"/><polygon points="390.6,327.9 400.7,296.9 480.5,296.9 489.7,327.9 480.5,358.9 400.7,358.9" fill="#FEBC12" filter="url(#hs)"/><polygon points="526.3,290.8 537,260 614.7,260 625.6,290.8 614.7,321.6 537,321.6" fill="#FEBC12" filter="url(#hs)"/><polygon points="138.7,404.7 147.9,379.9 212,379.9 221.3,404.7 212,429.5 147.9,429.5" fill="#FEBC12" filter="url(#hs)"/></g>
<g id="cards"><rect x="700.6" y="8.0" width="241.7" height="236.29999999999998" rx="16" fill="#fff" filter="url(#cs)"/><rect x="705.2" y="12.6" width="232.5" height="227.1" rx="12" fill="url(#cg)"/><rect x="700.6" y="256.59999999999997" width="241.7" height="236.60000000000002" rx="16" fill="#fff" filter="url(#cs)"/><rect x="705.2" y="261.2" width="232.5" height="227.40000000000003" rx="12" fill="url(#cg)"/><rect x="715.6" y="168.1" width="211.89999999999998" height="62.20000000000002" rx="7" fill="#f2f2f2"/><rect x="715.6" y="168.1" width="211.89999999999998" height="62.20000000000002" rx="7" fill="none" stroke="#777" stroke-width="3.5" filter="url(#ib)" clip-path="inset(0 round 7px)" opacity=".55"/><rect x="715.6" y="414.7" width="211.89999999999998" height="62.0" rx="7" fill="#f2f2f2"/><rect x="715.6" y="414.7" width="211.89999999999998" height="62.0" rx="7" fill="none" stroke="#777" stroke-width="3.5" filter="url(#ib)" clip-path="inset(0 round 7px)" opacity=".55"/></g>
<defs>
<linearGradient id="gpk" x1="0" y1="0" x2="0" y2="1"><stop offset="0" stop-color="#FFA8C2"/><stop offset="1" stop-color="#FF7BA8"/></linearGradient>
<linearGradient id="gpu" x1="0" y1="0" x2="0" y2="1"><stop offset="0" stop-color="#BF7BFF"/><stop offset="1" stop-color="#9F5CFF"/></linearGradient>
<linearGradient id="glv" x1="0" y1="0" x2="0" y2="1"><stop offset="0" stop-color="#DDCBFF"/><stop offset="1" stop-color="#B09CFF"/></linearGradient>
<linearGradient id="gb2" x1="0" y1="0" x2="0" y2="1"><stop offset="0" stop-color="#DB8BE8"/><stop offset="1" stop-color="#C873E3"/></linearGradient>
<linearGradient id="gar" x1="0" y1="1" x2="1" y2="0"><stop offset="0" stop-color="#B9A2FF"/><stop offset="1" stop-color="#E6D6FF"/></linearGradient>
</defs>
<g id="icon-pie" stroke-linejoin="round" stroke-width="5">
<path d="M822,84.6 L775.3,84.6 A46.7,46.7 0 0 1 822,37.9 Z" fill="url(#gpk)" stroke="url(#gpk)"/>
<path d="M833.2,51.3 A46.2,46.2 0 1 1 818.9,141.5 L833.2,97 Z" fill="url(#gpu)" stroke="url(#gpu)"/>
<path d="M821.5,96.5 L775.3,96.5 A46.5,46.5 0 0 0 805.8,139.6 Z" fill="url(#glv)" stroke="url(#glv)"/>
</g>
<g id="icon-growth">
<path d="M776.4,392 V370.3 a2,2 0 0 1 2,-2 h11.9 a2,2 0 0 1 2,2 V392 Z" fill="url(#glv)"/>
<path d="M800.8,392 V356.6 a2,2 0 0 1 2,-2 h12.3 a2,2 0 0 1 2,2 V392 Z" fill="url(#gb2)"/>
<path d="M825.6,392 V344 a2,2 0 0 1 2,-2 h11.8 a2,2 0 0 1 2,2 V392 Z" fill="url(#glv)"/>
<path d="M850,392 V331 a2,2 0 0 1 2,-2 h12.3 a2,2 0 0 1 2,2 V392 Z" fill="url(#gb2)"/>
<rect x="766" y="392.1" width="110" height="3.8" rx="1.9" fill="#E6D3EC"/>
<path d="M782.5,338.3 C800,335 823,324 840.3,296.6 L834.6,293.8 Q833.6,292.6 835,292.2 L854.2,285.4 Q855.6,285 855.7,286.6 L856.6,307 Q856.4,308.6 855,307.6 L849.8,302.4 C836,326 810,341 783.2,343.4 C780,343.4 779.6,338.9 782.5,338.3 Z" fill="url(#gar)"/>
</g>

<defs>
<linearGradient id="glg" gradientUnits="userSpaceOnUse" x1="39" y1="0" x2="71" y2="0"><stop offset="0" stop-color="#A626B4"/><stop offset=".45" stop-color="#8A2BB4"/><stop offset="1" stop-color="#5A35B2"/></linearGradient>
<filter id="pb" x="-5%" y="-20%" width="110%" height="140%"><feGaussianBlur stdDeviation="1.6"/></filter>
</defs>
<g id="logo">
<rect x="18.1" y="489.7" width="175.4" height="37.2" rx="18.6" fill="#f1f1f1"/>
<rect x="18.1" y="489.7" width="175.4" height="37.2" rx="18.6" fill="none" stroke="#888" stroke-width="3" filter="url(#pb)" clip-path="inset(0 round 18.6px)" opacity=".65"/>
<g fill="none" stroke="url(#glg)" stroke-width="3.9" stroke-linecap="round">
<path d="M41.4,504 A7,7 0 0 1 55.1,506.1 V511.8 C55.1,515.7 57.7,517.6 60.7,517.6 C62.5,517.6 63.7,517.3 64.7,516.6"/>
<path d="M48.1,506.1 V511.2"/>
<path d="M61.9,501 V510.9"/>
<path d="M68.65,498.9 V510.9"/>
</g>
<circle cx="41.1" cy="510.9" r="2" fill="#A626B4"/>
</g>

<g id="texts">
<text class="title" y="37.7" font-size="24.3" font-weight="bold" fill="#9B27AF"><tspan x="27.37" textLength="105.76" lengthAdjust="spacingAndGlyphs">GLOBAL</tspan> <tspan x="141.98" textLength="209.02" lengthAdjust="spacingAndGlyphs">RECHARGEABLE</tspan> <tspan x="358.18" textLength="65.03" lengthAdjust="spacingAndGlyphs">POLY</tspan> <tspan x="433.44" textLength="174.16" lengthAdjust="spacingAndGlyphs">LITHIUM-ION</tspan></text>
<text class="title" y="72.3" font-size="24.3" font-weight="bold" fill="#9B27AF"><tspan x="28.39" textLength="113.52" lengthAdjust="spacingAndGlyphs">BATTERY</tspan> <tspan x="148.38" textLength="116.84" lengthAdjust="spacingAndGlyphs">MARKET</tspan></text>
<text class="subtitle" y="98.4" font-size="16.34" fill="#404040"><tspan x="27.9" textLength="42.79" lengthAdjust="spacingAndGlyphs">Value</tspan> <tspan x="76.2" textLength="37.28" lengthAdjust="spacingAndGlyphs">(US$</tspan> <tspan x="119.14" textLength="32.67" lengthAdjust="spacingAndGlyphs">Mn)</tspan> <tspan x="157.8" textLength="69.37" lengthAdjust="spacingAndGlyphs">Analysis,</tspan> <tspan x="232.53" textLength="18.56" lengthAdjust="spacingAndGlyphs">By</tspan> <tspan x="256.41" textLength="61.27" lengthAdjust="spacingAndGlyphs">Region,</tspan> <tspan x="323.1" textLength="37.58" lengthAdjust="spacingAndGlyphs">2022</tspan></text>
<text class="lbl" transform="translate(66.91,246.2) scale(1.0948,1)" font-size="15.22" font-weight="bold" fill="#000">North</text>
<text class="lbl" transform="translate(58.7,265.6) scale(1.0148,1)" font-size="15.22" font-weight="bold" fill="#000">America</text>
<text class="lbl" transform="translate(272.66,258.4) scale(1.0404,1)" font-size="15.08" font-weight="bold" fill="#000">Europe</text>
<text class="lbl" transform="translate(413.1,313.7) scale(1.1043,1)" font-size="15.22" font-weight="bold" fill="#000">Middle</text>
<text class="lbl" transform="translate(423.83,332.5) scale(0.9653,1)" font-size="15.22" font-weight="bold" fill="#000">East</text>
<text class="lbl" transform="translate(401.7,351.7) scale(1.0126,1)" font-size="15.22" font-weight="bold" fill="#000">and Africa</text>
<text class="lbl" transform="translate(533.8,275.7) scale(0.971,1)" font-size="15.22" font-weight="bold" fill="#000">Asia-Pacific</text>
<text class="lbl" transform="translate(541.37,296.7) scale(1.0736,1)" font-size="16.48" font-weight="bold" font-style="italic" fill="#000">46,319.9</text>
<text class="lbl" transform="translate(541.6,314.7) scale(1.0829,1)" font-size="14.66" font-weight="bold" fill="#000">(US$ Mn)</text>
<text class="lbl" transform="translate(157.6,400.1) scale(0.9879,1)" font-size="15.36" font-weight="bold" fill="#000">South</text>
<text class="lbl" transform="translate(148.4,419) scale(1.0082,1)" font-size="15.22" font-weight="bold" fill="#000">America</text>
<text class="kpi" transform="translate(752.2,188.1) scale(1.0806,1)" font-size="16.62" fill="#9C27B0">Total Market Size</text>
<text class="kpi" transform="translate(731.1,217.9) scale(1.0786,1)" font-size="26.96" font-weight="bold" font-style="italic" fill="#9C27B0">133,410</text>
<text class="kpi" transform="translate(836.51,217.9) scale(1.0949,1)" font-size="16.06" fill="#9C27B0">(US$ Mn)</text>
<text class="kpi" transform="translate(747.0,436.7) scale(1.0145,1)" font-size="16.76" fill="#9C27B0">CAGR 2023 – 2032</text>
<text class="kpi" transform="translate(779.72,465.8) scale(1.0824,1)" font-size="26.68" font-weight="bold" font-style="italic" fill="#9C27B0">6.45%</text>
<text class="src" transform="translate(836.8,525.4) scale(0.9292,1)" font-size="12.85" font-weight="bold" fill="#404040">Source: market.us</text>
<text class="brand" transform="translate(77.63,510.4) scale(1.1687,1)" font-size="18.3" font-weight="bold" fill="#2B2D3A">market</text>
<text class="brand" transform="translate(147.67,510.4) scale(0.9333,1)" font-size="18.3" font-weight="bold" fill="#9C27B0">.</text>
<text class="brand" transform="translate(151.56,510.4) scale(1.0413,1)" font-size="18.3" font-weight="bold" fill="#2B2D3A">us</text>
<text class="tag" transform="translate(78.8,516.3) scale(1.2891,1)" font-size="4.05" font-weight="bold" fill="#4a4a55">ONE STOP SHOP FOR THE REPORTS</text>
</g>
</svg>
</body></html>
